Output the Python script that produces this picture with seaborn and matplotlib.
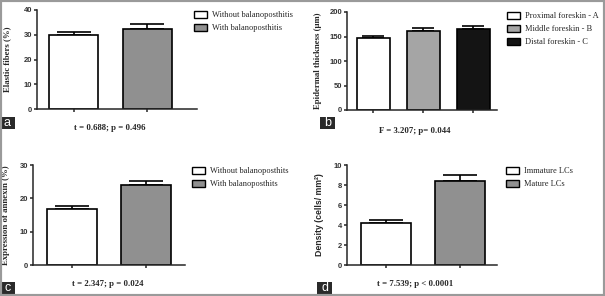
import numpy as np
import pandas as pd
import matplotlib.pyplot as plt
import seaborn as sns
from matplotlib.patches import Patch, Rectangle

# Panel data
a_groups = ["Without balanoposthitis", "With balanoposthitis"]
a_means = [30.1, 32.2]
a_errs = [1.1, 2.1]

b_groups = ["Proximal foreskin - A", "Middle foreskin - B", "Distal foreskin - C"]
b_means = [146, 162, 165]
b_errs = [5, 6, 7]

c_groups = ["Without balanoposthits", "With balanoposthits"]
c_means = [16.8, 24.1]
c_errs = [1.0, 1.2]

d_groups = ["Immature LCs", "Mature LCs"]
d_means = [4.2, 8.45]
d_errs = [0.32, 0.52]

sns.set_style("ticks")
plt.rcParams["font.family"] = ["Liberation Serif", "DejaVu Serif"]
plt.rcParams["axes.linewidth"] = 1.1
plt.rcParams["xtick.major.width"] = 1.1
plt.rcParams["ytick.major.width"] = 1.1
plt.rcParams["xtick.major.size"] = 2.5
plt.rcParams["ytick.major.size"] = 2.5

W, H = 605, 296
fig = plt.figure(figsize=(W / 100, H / 100), dpi=100)
fig.patch.set_facecolor("white")


def px_axes(left, top, right, bottom):
    return fig.add_axes([left / W, 1 - bottom / H, (right - left) / W, (bottom - top) / H])


def panel(box, groups, means, errs, colors, ymax, ystep, xlim, ylabel, width,
          legend_xy, capsize, ylab_x, ylab_font=None):
    ax = px_axes(*box)
    df = pd.DataFrame({"group": groups, "mean": means, "err": errs})
    sns.barplot(data=df, x="group", y="mean", hue="group", palette=colors,
                saturation=1, width=width, edgecolor="black", linewidth=1.2,
                legend=False, ax=ax, zorder=2)
    ax.errorbar(np.arange(len(groups)), df["mean"], yerr=[np.zeros(len(groups)), df["err"]],
                fmt="none", ecolor="black", elinewidth=1.2, capsize=capsize, capthick=1.2, zorder=1)
    ax.set_xlim(*xlim)
    ax.set_ylim(0, ymax)
    ax.set_yticks(np.arange(0, ymax + ystep / 2, ystep))
    ax.set_xticks(np.arange(len(groups)))
    ax.set_xticklabels([])
    ax.set_xlabel("")
    ax.tick_params(axis="y", labelsize=5.5, pad=1, labelcolor="#333333")
    for lab in ax.get_yticklabels():
        lab.set_fontfamily(["Liberation Sans", "DejaVu Sans"])
        lab.set_fontweight("bold")
    ax.set_ylabel(ylabel, fontsize=6.3, fontweight="bold",
                  fontfamily=ylab_font or ["Liberation Serif", "DejaVu Serif"])
    ax.yaxis.set_label_coords(ylab_x, 0.5)
    sns.despine(ax=ax)
    handles = [Patch(facecolor=c, edgecolor="black", linewidth=1.0) for c in colors]
    ax.legend(handles, groups, loc="upper left",
              bbox_to_anchor=(legend_xy[0] / W, 1 - legend_xy[1] / H),
              bbox_transform=fig.transFigure, frameon=False, fontsize=6,
              handlelength=1.6, handleheight=0.9, handletextpad=0.6,
              labelspacing=0.55, borderaxespad=0, borderpad=0)
    return ax


grey = "#909090"
panel((37, 10, 197, 109), a_groups, a_means, a_errs, ["white", grey], 40, 10,
      (-0.5, 1.68), "Elastic fibers (%)", 0.67, (194, 11), 12, -0.16)
panel((347, 12, 497, 110), b_groups, b_means, b_errs, ["white", "#a5a5a5", "#141414"], 200, 50,
      (-0.52, 2.48), "Epidermal thickness (µm)", 0.66, (507, 12), 8, -0.17)
panel((33, 165, 185, 265), c_groups, c_means, c_errs, ["white", grey], 30, 10,
      (-0.53, 1.53), "Expression of annexin (%)", 0.68, (192, 167), 12, -0.15)
panel((347, 165, 497, 265), d_groups, d_means, d_errs, ["white", grey], 10, 2,
      (-0.53, 1.5), "Density (cells/ mm²)", 0.68, (506, 167), 12, -0.155,
      ylab_font=["Liberation Sans", "DejaVu Sans"])

# statistics under each panel
stats = [("t = 0.688; p = 0.496", 110, 128), ("F = 3.207; p= 0.044", 415, 131),
         ("t = 2.347; p = 0.024", 108, 284), ("t = 7.539; p < 0.0001", 415, 284)]
for txt, x, y in stats:
    fig.text(x / W, 1 - y / H, txt, ha="center", va="center", fontsize=6.3, fontweight="bold")

# panel letters
for letter, x, y in [("a", 0, 129), ("b", 320, 129), ("c", 0, 294), ("d", 317, 294)]:
    fig.patches.append(Rectangle((x / W, 1 - y / H), 15 / W, 12 / H, transform=fig.transFigure,
                                 facecolor="#2a2a2a", edgecolor="none", zorder=5))
    fig.text((x + 7.5) / W, 1 - (y - 6) / H, letter, ha="center", va="center", color="white",
             fontsize=9, fontfamily=["Liberation Sans", "DejaVu Sans"], zorder=6)

# outer grey frame
fig.patches.append(Rectangle((0, 0), 1, 1, transform=fig.transFigure, fill=False,
                             edgecolor="#9a9a9a", linewidth=3, zorder=10))

fig.savefig("out.png", dpi=100)
